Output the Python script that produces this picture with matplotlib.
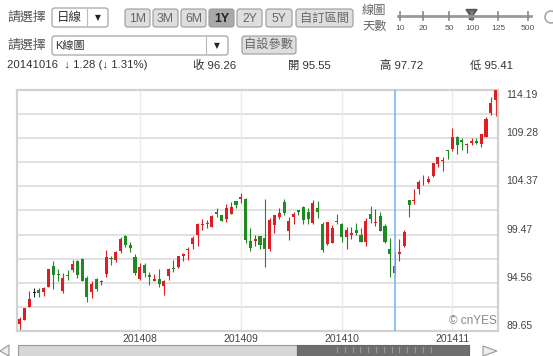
import matplotlib.pyplot as plt
from matplotlib.patches import FancyBboxPatch, Rectangle, Polygon, Circle
import numpy as np

plt.rcParams['font.family'] = ['Liberation Sans', 'Noto Sans CJK TC']

# daily candles, 2014-06-26 .. 2014-11-14
dates = ['0626', '0627', '0630', '0701', '0702', '0703', '0707', '0708', '0709', '0710',
         '0711', '0714', '0715', '0716', '0717', '0718', '0721', '0722', '0723', '0724',
         '0725', '0728', '0729', '0730', '0731', '0801', '0804', '0805', '0806', '0807',
         '0808', '0811', '0812', '0813', '0814', '0815', '0818', '0819', '0820', '0821',
         '0822', '0825', '0826', '0827', '0828', '0829', '0902', '0903', '0904', '0905',
         '0908', '0909', '0910', '0911', '0912', '0915', '0916', '0917', '0918', '0919',
         '0922', '0923', '0924', '0925', '0926', '0929', '0930', '1001', '1002', '1003',
         '1006', '1007', '1008', '1009', '1010', '1013', '1014', '1015', '1016', '1017',
         '1020', '1021', '1022', '1023', '1024', '1027', '1028', '1029', '1030', '1031',
         '1103', '1104', '1105', '1106', '1107', '1110', '1111', '1112', '1113', '1114']
opens = [90.37, 90.82, 92.10, 93.52, 93.87, 93.67, 94.14, 96.27, 95.44, 93.76,
         95.36, 95.86, 96.80, 96.97, 95.03, 93.62, 94.99, 94.68, 95.42, 97.04,
         96.85, 97.82, 99.33, 98.44, 97.16, 94.90, 96.37, 95.36, 94.75, 94.93,
         94.26, 95.27, 96.04, 96.15, 97.33, 97.90, 98.49, 99.41, 100.44, 100.57,
         100.29, 101.79, 101.42, 101.02, 101.59, 102.86, 103.06, 103.10, 98.85, 98.80,
         99.30, 99.08, 98.01, 100.41, 101.21, 102.81, 99.80, 101.27, 101.93, 102.29,
         101.80, 100.60, 102.16, 100.51, 98.53, 98.65, 100.81, 100.59, 99.27, 99.44,
         99.95, 99.43, 98.76, 101.54, 100.69, 101.33, 100.39, 97.97, 95.55, 97.50,
         98.32, 103.02, 102.84, 104.08, 105.18, 104.85, 105.40, 106.65, 106.96, 108.01,
         108.22, 109.36, 109.10, 108.60, 108.75, 109.02, 108.70, 109.38, 111.80, 113.15]
highs = [91.05, 92.00, 93.73, 94.07, 94.06, 94.10, 95.99, 96.80, 95.95, 95.55,
         95.89, 96.89, 96.85, 97.10, 95.28, 94.74, 95.00, 94.89, 97.88, 97.32,
         97.84, 99.24, 99.44, 98.70, 97.45, 96.62, 96.58, 95.68, 95.48, 95.95,
         94.82, 96.08, 96.88, 97.24, 97.57, 98.19, 99.37, 100.68, 101.09, 100.94,
         101.47, 102.17, 101.50, 102.57, 102.78, 102.90, 103.74, 103.20, 100.09, 99.39,
         99.31, 103.08, 101.11, 101.44, 102.19, 103.05, 101.26, 101.80, 101.98, 102.35,
         102.14, 102.94, 102.85, 100.71, 100.75, 100.44, 101.54, 100.69, 100.22, 100.21,
         100.65, 100.12, 101.11, 102.38, 102.03, 101.78, 100.52, 99.15, 97.72, 99.00,
         99.96, 103.02, 104.11, 105.05, 105.49, 105.48, 106.74, 107.37, 107.35, 108.04,
         110.30, 109.49, 109.30, 108.79, 109.32, 109.33, 109.75, 111.43, 113.45, 114.19]
lows = [89.80, 90.77, 92.09, 93.13, 93.09, 93.20, 94.10, 93.92, 94.76, 93.52,
        94.86, 95.65, 95.03, 94.74, 92.57, 93.02, 93.72, 94.35, 95.17, 96.42,
        96.64, 97.55, 98.25, 97.67, 95.33, 94.81, 95.17, 94.36, 94.71, 94.10,
        93.28, 94.84, 95.61, 96.04, 96.80, 96.86, 97.98, 98.32, 99.95, 100.11,
        100.19, 101.28, 100.86, 100.70, 101.56, 102.20, 102.72, 98.58, 97.79, 98.31,
        98.05, 96.14, 97.76, 99.62, 101.08, 101.44, 98.89, 100.59, 101.44, 100.50,
        100.58, 100.54, 101.20, 97.72, 98.40, 98.63, 100.53, 98.70, 98.04, 99.04,
        99.42, 98.73, 98.31, 100.61, 100.30, 99.81, 98.57, 95.18, 95.41, 96.81,
        98.22, 101.27, 102.60, 103.63, 104.53, 104.70, 105.35, 106.36, 105.90, 107.21,
        108.01, 107.72, 108.13, 107.80, 108.55, 108.67, 108.40, 109.37, 111.60, 111.56]
closes = [90.90, 91.98, 92.93, 93.52, 93.48, 94.03, 95.97, 95.35, 95.39, 95.04,
          95.22, 96.45, 95.32, 94.78, 93.09, 94.43, 93.94, 94.72, 97.19, 97.03,
          97.67, 99.02, 98.38, 98.15, 95.60, 96.13, 95.59, 95.12, 94.96, 94.48,
          94.74, 95.99, 95.97, 97.24, 97.50, 97.98, 99.16, 100.53, 100.57, 100.58,
          101.32, 101.54, 100.89, 102.13, 102.25, 102.50, 103.30, 98.94, 98.12, 98.97,
          98.36, 97.99, 101.00, 101.43, 101.66, 101.63, 100.86, 101.58, 101.79, 100.96,
          101.06, 102.64, 101.75, 97.87, 100.75, 100.11, 100.75, 99.18, 99.90, 99.62,
          99.62, 98.75, 100.80, 101.02, 100.73, 99.81, 98.75, 97.54, 96.26, 97.67,
          99.76, 102.47, 102.99, 104.83, 105.22, 105.11, 106.74, 107.34, 106.98, 108.00,
          109.40, 108.60, 108.86, 108.70, 109.01, 108.83, 109.70, 111.25, 112.82, 114.18]

month_labels = ['201408', '201409', '201410', '201411']
month_first = ['0801', '0902', '1001', '1103']
y_labels = ['89.65', '94.56', '99.47', '104.37', '109.28', '114.19']
cursor_date = '1016'

buttons = ['1M', '3M', '6M', '1Y', '2Y', '5Y', '自訂區間']
days_opts = ['10', '20', '50', '100', '125', '500']

RED = '#dc1f26'
GREEN = '#1f8a22'
TXT = '#333333'

fig = plt.figure(figsize=(5.53, 3.56), dpi=100)

# ---- UI layer in pixel coordinates ----
ui = fig.add_axes([0, 0, 1, 1])
ui.set_xlim(0, 553)
ui.set_ylim(356, 0)
ui.axis('off')


def box(x0, y0, x1, y1, fc, ec, r=2.5, lw=0.8):
    ui.add_patch(FancyBboxPatch((x0, y0), x1 - x0, y1 - y0,
                                boxstyle=f'round,pad=0,rounding_size={r}',
                                fc=fc, ec=ec, lw=lw))


# row 1
ui.text(7, 18, '請選擇', fontsize=9.3, color='#555', va='center')
box(52, 8, 108, 27, 'white', '#999')
ui.plot([87, 87], [9, 26], color='#bbb', lw=0.8)
ui.text(57, 17.5, '日線', fontsize=9, color=TXT, va='center')
ui.text(97.5, 18, '▼', fontsize=5.5, color='#222', ha='center', va='center',
        family=['DejaVu Sans'])

bx = [125, 153, 181, 209, 237, 266, 296]
bw = [25, 25, 25, 25, 25, 26, 57]
for lab, x, w in zip(buttons, bx, bw):
    pressed = lab == '1Y'
    box(x, 9, x + w, 27, '#a9a9a9' if pressed else '#dedede', '#9a9a9a')
    ui.text(x + w / 2, 18.5, lab, fontsize=8.8, ha='center', va='center',
            color='#222' if pressed else '#666',
            fontweight='bold' if pressed else 'normal')

ui.text(362, 11, '線圖', fontsize=8.8, color='#666', va='center')
ui.text(362, 27, '天數', fontsize=8.8, color='#666', va='center')
ui.plot([398, 531], [16, 16], color='#9a9a9a', lw=2)
slide_x = [400, 423, 449, 472, 498, 528]
for lab, x in zip(days_opts, slide_x):
    ui.plot([x, x], [12, 20], color='#888', lw=1.2)
    ui.text(x, 28.5, lab, fontsize=6, color='#555', ha='center', va='center')
ui.add_patch(Polygon([(466, 9.5), (477, 9.5), (473.5, 14.5), (473.5, 19.5),
                      (469.5, 19.5), (469.5, 14.5)], closed=True, fc='#666', ec='#555'))
ui.add_patch(Circle((551, 17), 6, fc='none', ec='#aaa', lw=1.2))

# row 2
ui.text(7, 45.5, '請選擇', fontsize=9.3, color='#555', va='center')
box(52, 36, 228, 55, 'white', '#999')
ui.plot([206, 206], [37, 54], color='#bbb', lw=0.8)
ui.text(55, 45.5, 'K線圖', fontsize=8, color=TXT, va='center')
ui.text(217, 46, '▼', fontsize=5.5, color='#222', ha='center', va='center',
        family=['DejaVu Sans'])
box(242, 36, 296, 54, '#dedede', '#9a9a9a')
ui.text(269, 45, '自設參數', fontsize=8.8, color='#666', ha='center', va='center')

# row 3 - quote of the cursor day
ci = dates.index(cursor_date)
chg = closes[ci] - closes[ci - 1]
pct = chg / closes[ci - 1] * 100
ui.text(7, 65.5, f'2014{cursor_date}  ↓ {abs(chg):.2f} (↓ {abs(pct):.2f}%)',
        fontsize=8.2, color=TXT, va='center', family=['Liberation Sans', 'DejaVu Sans'])
ui.text(193, 65.5, f'收 {closes[ci]:.2f}', fontsize=8.2, color=TXT, va='center')
ui.text(288, 65.5, f'開 {opens[ci]:.2f}', fontsize=8.2, color=TXT, va='center')
ui.text(380, 65.5, f'高 {highs[ci]:.2f}', fontsize=8.2, color=TXT, va='center')
ui.text(470, 65.5, f'低 {lows[ci]:.2f}', fontsize=8.2, color=TXT, va='center')

# bottom scrollbar
ui.add_patch(Polygon([(9, 345), (9, 356), (0, 351)], closed=True, fc='#eeeeee', ec='#999', lw=0.8))
ui.add_patch(Polygon([(483, 346), (483, 356), (497, 351)], closed=True, fc='#eeeeee', ec='#999', lw=0.8))
ui.add_patch(Rectangle((18, 345), 279, 12, fc='#d6d6d6', ec='#999', lw=0.8))
ui.add_patch(Rectangle((297, 345), 172, 12, fc='#6e6e6e', ec='#666', lw=0.8))
for x in np.arange(337, 432, 7.8):
    ui.plot([x, x], [347, 352], color='#9a9a9a', lw=0.8)

# ---- candlestick chart ----
ax = fig.add_axes([17 / 553, 25 / 356, 481 / 553, 241 / 356])
ax.set_facecolor('white')
n = len(dates)
xs = np.arange(n)
ymin, ymax = float(y_labels[0]), float(y_labels[-1])
ax.set_xlim(-0.55, n - 0.5)
ax.set_ylim(ymin, ymax)

step = (ymax - ymin) / 10
for k in range(1, 10):
    ax.axhline(ymin + k * step, color='#dedede', lw=1.3, zorder=0)
mpos = [dates.index(d) for d in month_first]
for p in mpos:
    ax.axvline(p, color='#ebebeb', lw=1, zorder=0)

cols = [RED if c > o else (GREEN if c < o else '#222222') for o, c in zip(opens, closes)]
ax.vlines(xs, lows, highs, colors=cols, lw=0.8, zorder=2)
bottoms = np.minimum(opens, closes)
heights = np.maximum(np.abs(np.array(closes) - np.array(opens)), 0.08)
ax.bar(xs, heights, bottom=bottoms, width=0.64, color=cols, lw=0, zorder=3)

ax.axvline(ci, color='#6fb3ee', lw=1.1, zorder=4)

for s in ax.spines.values():
    s.set_color('#d2d2d2')
    s.set_linewidth(1.6)
ax.set_xticks([])
ax.set_yticks([])

for lab in y_labels:
    v = float(lab)
    ax.text(1.018, v, lab, transform=ax.get_yaxis_transform(), fontsize=7.5,
            color='#444', ha='left', va='top' if v == ymax else 'bottom', clip_on=False)
for p, lab in zip(mpos, month_labels):
    ax.text(p, -0.014, lab, transform=ax.get_xaxis_transform(), fontsize=7.5,
            color='#444', ha='center', va='top', clip_on=False)
ax.text(0.997, 0.018, '© cnYES', transform=ax.transAxes, fontsize=8.5, color='#888',
        ha='right', va='bottom', family=['Liberation Sans', 'DejaVu Sans'])

fig.savefig('out.png', dpi=100, facecolor='white')
